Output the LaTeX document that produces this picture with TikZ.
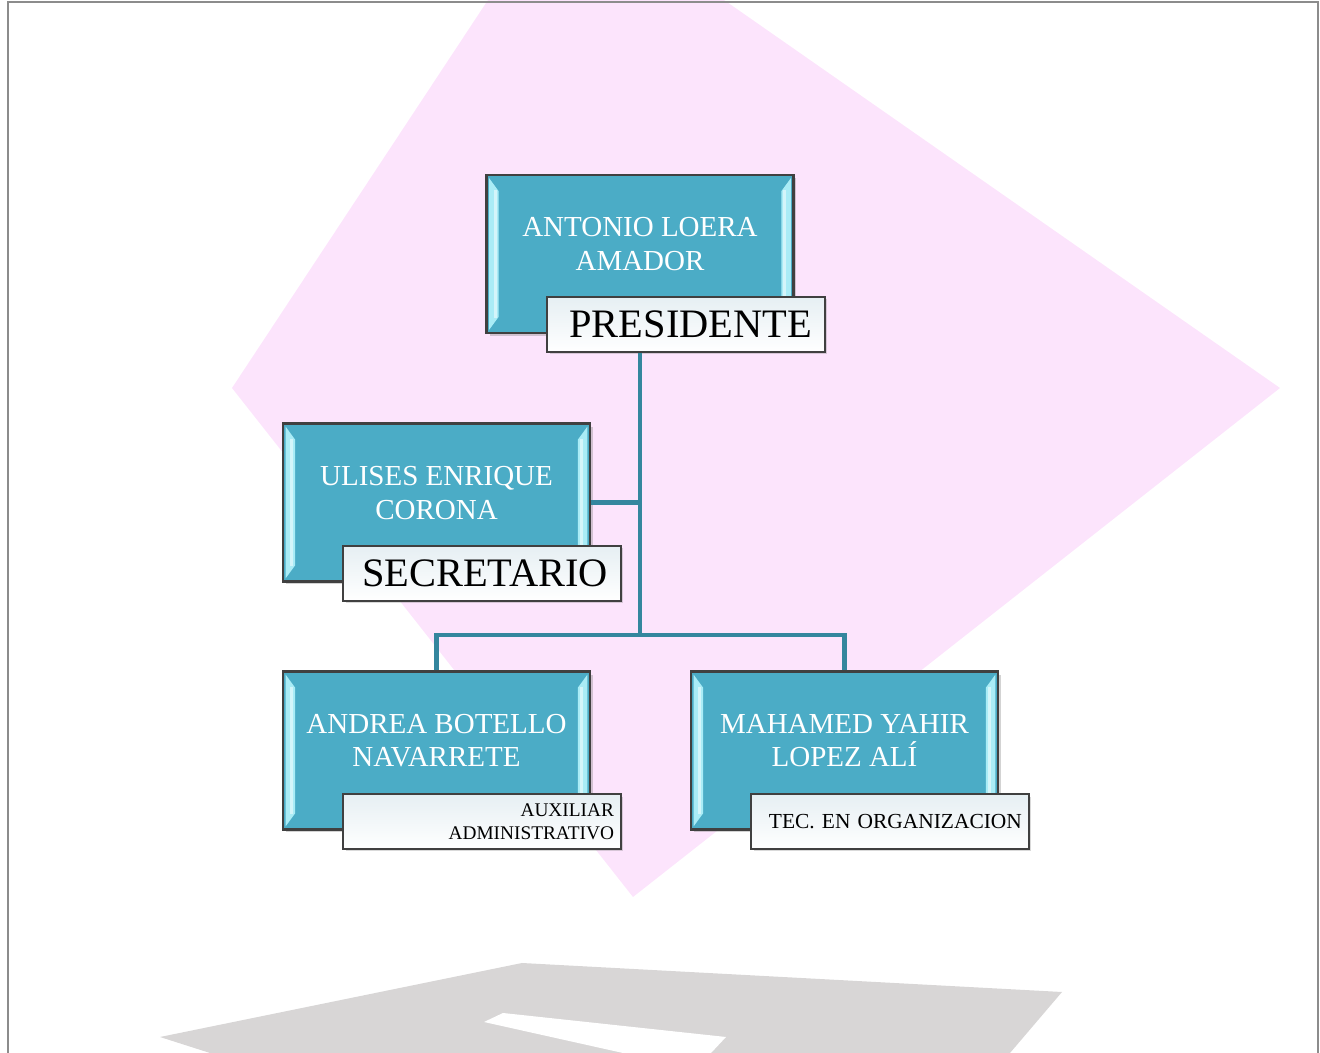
\documentclass[tikz,border=0pt]{standalone}
\usepackage{fontspec}
\setmainfont{Liberation Serif}
\usetikzlibrary{shadows}

\definecolor{boxfill}{RGB}{75,172,198}
\definecolor{boxline}{RGB}{64,64,64}
\definecolor{hilite}{RGB}{170,236,246}
\definecolor{connteal}{RGB}{52,134,158}
\definecolor{labfill}{RGB}{230,239,243}
\definecolor{pinkbg}{RGB}{252,228,252}
\definecolor{floorgray}{RGB}{216,214,214}
\definecolor{framegray}{RGB}{140,140,140}

\begin{document}
\begin{tikzpicture}[x=0.02cm,y=-0.02cm,
    box/.style={shape=rectangle,draw=boxline,line width=1.3pt,fill=boxfill,
      minimum width=6.14cm,minimum height=3.16cm,inner sep=0pt,
      drop shadow={shadow xshift=0.06cm,shadow yshift=-0.06cm,opacity=0.35},
      path picture={
        \fill[hilite] ([shift={(0.05cm,-0.06cm)}]path picture bounding box.north west)
          -- ([shift={(0.24cm,-0.32cm)}]path picture bounding box.north west)
          -- ([shift={(0.24cm,0.32cm)}]path picture bounding box.south west)
          -- ([shift={(0.05cm,0.06cm)}]path picture bounding box.south west) -- cycle;
        \fill[hilite] ([shift={(-0.05cm,-0.06cm)}]path picture bounding box.north east)
          -- ([shift={(-0.24cm,-0.32cm)}]path picture bounding box.north east)
          -- ([shift={(-0.24cm,0.32cm)}]path picture bounding box.south east)
          -- ([shift={(-0.05cm,0.06cm)}]path picture bounding box.south east) -- cycle;
        \fill[white,opacity=0.5] ([shift={(0.14cm,-0.3cm)}]path picture bounding box.north west)
          rectangle ([shift={(0.2cm,0.3cm)}]path picture bounding box.south west);
        \fill[white,opacity=0.5] ([shift={(-0.14cm,-0.3cm)}]path picture bounding box.north east)
          rectangle ([shift={(-0.2cm,0.3cm)}]path picture bounding box.south east);}},
    who/.style={text=white,align=center,font=\fontsize{16.5}{19}\selectfont},
    lab/.style={shape=rectangle,draw=boxline,line width=1.2pt,top color=labfill,bottom color=white,
      minimum width=5.56cm,minimum height=1.1cm,text width=5.28cm,inner xsep=0.14cm,inner ysep=0pt,
      align=right,font=\fontsize{11}{13}\selectfont,
      drop shadow={shadow xshift=0.05cm,shadow yshift=-0.05cm,opacity=0.3}},
    big/.style={text width=5.04cm,inner xsep=0.26cm,font=\fontsize{23}{26}\selectfont},
    conn/.style={draw=connteal,line width=2.6pt}]
  \useasboundingbox (0, 0) rectangle (1320, 1053);

  % background shapes
  \fill[pinkbg] (488, 0) -- (724, 0) -- (1280, 388) -- (633, 897) -- (232, 388) -- cycle;
  \fill[floorgray] (160, 1037) -- (522, 963) -- (1062, 992) -- (1010, 1053) -- (210, 1053) -- cycle;
  \fill[white] (484, 1022) -- (503, 1013) -- (726, 1037) -- (711, 1053) -- (623, 1053) -- cycle;

  % people
  \node[box](pres)at(640, 254){};
  \node[who](presN)at(640, 244){ANTONIO LOERA\\AMADOR};
  \node[lab,big](presL)at(686, 324.5){PRESIDENTE};

  \node[box](sec)at(436.5, 502.5){};
  \node[who](secN)at(436.5, 493){ULISES ENRIQUE\\CORONA};
  \node[lab,big](secL)at(482, 573.5){SECRETARIO};

  \node[box](andrea)at(436.5, 750.5){};
  \node[who](andreaN)at(436.5, 740.5){ANDREA BOTELLO\\NAVARRETE};
  \node[lab](andreaL)at(482, 821.5){AUXILIAR\\ADMINISTRATIVO};

  \node[box](mahamed)at(844.5, 750.5){};
  \node[who](mahamedN)at(844.5, 740.5){MAHAMED YAHIR\\LOPEZ AL\'I};
  \node[lab,font=\fontsize{12.2}{14}\selectfont](mahamedL)at(890, 821.5){TEC. EN ORGANIZACION};

  % lines
  \coordinate (hub) at (640, 635);
  \path[conn] (presL.south -| pres.south) edge (hub)
              (sec.east) edge (sec.east -| hub);
  \draw[conn] (andrea.north) |- (hub) -| (mahamed.north);

  \draw[framegray,line width=0.8pt] (8, 1053) -- (8, 2) -- (1318, 2) -- (1318, 1053);
\end{tikzpicture}
\end{document}
